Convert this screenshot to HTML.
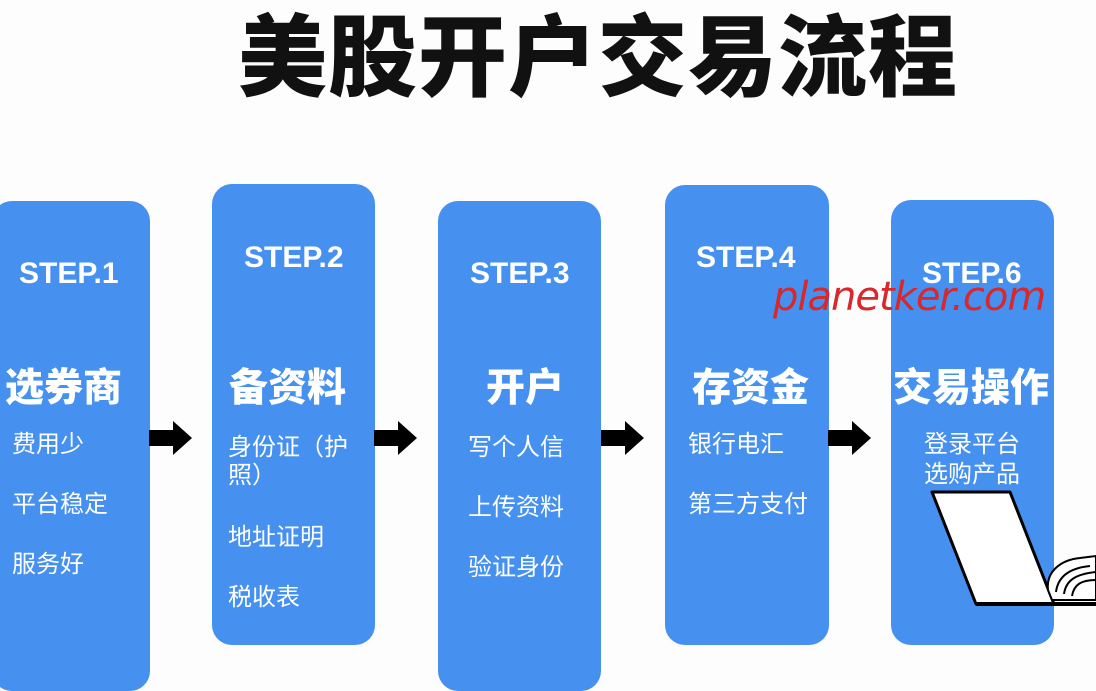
<!DOCTYPE html>
<html><head><meta charset="utf-8"><style>
body{margin:0;width:1096px;height:660px;background:#fdfdfd;position:relative;overflow:hidden;font-family:"Liberation Sans","Noto Sans CJK SC",sans-serif}
.t{position:absolute;white-space:nowrap}
.box{position:absolute;background:#4690f0;border-radius:20px}
.st{position:absolute;color:#fff;font-weight:bold;font-size:30px;font-family:"Liberation Sans","Noto Sans CJK SC",sans-serif;white-space:nowrap}
.h{position:absolute;color:#fff;font-weight:900;font-size:39px;white-space:nowrap;font-family:"Noto Sans CJK SC",sans-serif}
.i{position:absolute;color:#fff;font-size:24px;white-space:nowrap;font-family:"Noto Sans CJK SC",sans-serif}
.arr{position:absolute;width:44px;height:34px}
</style></head><body>
<div class="t" style="left:238px;top:-14px;font-size:89px;font-weight:900;color:#111;font-family:'Noto Sans CJK SC',sans-serif;letter-spacing:1px">美股开户交易流程</div>

<div class="box" style="left:-8px;top:201px;width:158px;height:490px"></div>
<div class="box" style="left:212px;top:184px;width:163px;height:461px"></div>
<div class="box" style="left:438px;top:201px;width:163px;height:490px"></div>
<div class="box" style="left:665px;top:185px;width:164px;height:460px"></div>
<div class="box" style="left:891px;top:200px;width:163px;height:445px"></div>

<div class="st" style="left:19px;top:257px">STEP.1</div>
<div class="st" style="left:244px;top:241px">STEP.2</div>
<div class="st" style="left:470px;top:257px">STEP.3</div>
<div class="st" style="left:696px;top:241px">STEP.4</div>
<div class="st" style="left:922px;top:257px">STEP.6</div>

<div class="h" style="left:5px;top:357px">选券商</div>
<div class="h" style="left:229px;top:357px">备资料</div>
<div class="h" style="left:486px;top:357px">开户</div>
<div class="h" style="left:692px;top:357px">存资金</div>
<div class="h" style="left:893px;top:357px">交易操作</div>

<div class="i" style="left:12px;top:424px">费用少</div>
<div class="i" style="left:12px;top:484px">平台稳定</div>
<div class="i" style="left:12px;top:544px">服务好</div>

<div class="i" style="left:228px;top:427px">身份证（护</div>
<div class="i" style="left:228px;top:455px">照）</div>
<div class="i" style="left:228px;top:517px">地址证明</div>
<div class="i" style="left:228px;top:577px">税收表</div>

<div class="i" style="left:468px;top:427px">写个人信</div>
<div class="i" style="left:468px;top:487px">上传资料</div>
<div class="i" style="left:468px;top:547px">验证身份</div>

<div class="i" style="left:688px;top:424px">银行电汇</div>
<div class="i" style="left:688px;top:484px">第三方支付</div>

<div class="i" style="left:924px;top:424px">登录平台</div>
<div class="i" style="left:924px;top:454px">选购产品</div>

<svg class="arr" style="left:149px;top:421px" viewBox="0 0 44 34"><polygon points="0,9 24,9 24,0 43,17 24,34 24,25 0,25" fill="#000"/></svg>
<svg class="arr" style="left:374px;top:421px" viewBox="0 0 44 34"><polygon points="0,9 24,9 24,0 43,17 24,34 24,25 0,25" fill="#000"/></svg>
<svg class="arr" style="left:601px;top:421px" viewBox="0 0 44 34"><polygon points="0,9 24,9 24,0 43,17 24,34 24,25 0,25" fill="#000"/></svg>
<svg class="arr" style="left:828px;top:421px" viewBox="0 0 44 34"><polygon points="0,9 24,9 24,0 43,17 24,34 24,25 0,25" fill="#000"/></svg>

<svg style="position:absolute;left:920px;top:480px" width="176" height="130" viewBox="0 0 176 130">
<polygon points="12,12 90,12 134,124 56,124" fill="#fff" stroke="#000" stroke-width="3" stroke-linejoin="round"/>
<line x1="56" y1="124" x2="176" y2="124" stroke="#000" stroke-width="4"/>
<path d="M128,110 C126,92 140,80 160,78 L176,76 L176,120 L132,120 Z" fill="#fff" stroke="#000" stroke-width="2"/>
<path d="M136,112 C138,96 150,88 170,86 M144,114 C146,100 156,94 176,92 M152,116 C154,104 162,100 176,100" fill="none" stroke="#000" stroke-width="2"/>
</svg>

<div class="t" style="left:773px;top:274px;font-size:40px;font-style:italic;color:#d8282c;font-family:'DejaVu Sans',sans-serif;letter-spacing:-1px">planetker.com</div>
</body></html>
